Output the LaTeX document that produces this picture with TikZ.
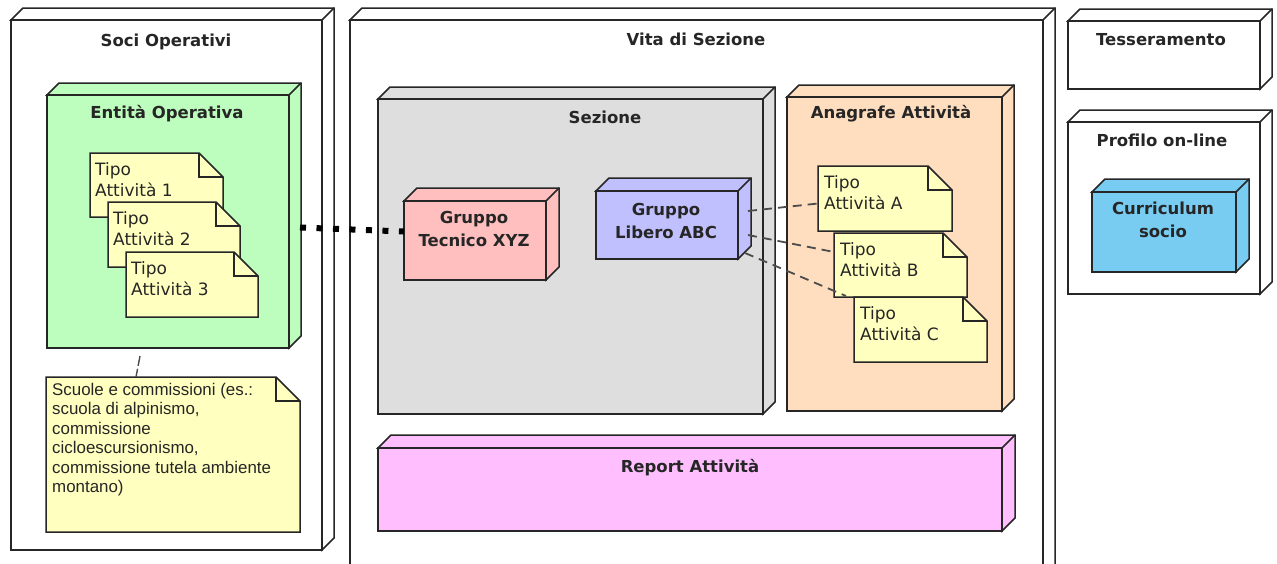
\documentclass[tikz,border=0pt]{standalone}
\usepackage{fontspec}
\setmainfont{DejaVu Sans}
\newfontfamily\memofont{Liberation Sans}

\definecolor{noteyellow}{HTML}{FFFFBF}
\definecolor{opgreen}{HTML}{BDFDBD}
\definecolor{sezgray}{HTML}{DEDEDE}
\definecolor{anapeach}{HTML}{FFDDBF}
\definecolor{tecpink}{HTML}{FFBFBF}
\definecolor{liblilac}{HTML}{C0C0FF}
\definecolor{repmagenta}{HTML}{FFBFFF}
\definecolor{curblue}{HTML}{78CCF2}
\definecolor{ink}{HTML}{262626}

\tikzset{
  edge/.style={draw=ink, line width=1.5pt, line join=miter},
  front/.style={edge, inner sep=0pt, outer sep=0pt, anchor=north west},
  title/.style={font=\bfseries\fontsize{16.5}{23}\selectfont, text=ink, inner sep=0pt, align=center},
  memotext/.style={font=\fontsize{17}{21}\selectfont, text=ink, inner sep=0pt, align=left, anchor=north west},
  bigdots/.style={draw=black, line width=6pt, dash pattern=on 6pt off 10.5pt},
  link/.style={draw=black!70, line width=1.8pt, dash pattern=on 9pt off 6pt},
  thinlink/.style={draw=black!70, line width=1.4pt, dash pattern=on 10pt off 3pt},
}

% UML node drawn as a box: name, x1, y1, x2, y2 (front face), depth, fill
\newcommand\umlcube[7]{%
  \draw[edge, fill=#7] (#2,#3) -- ++(#6,-#6) -- (#4+#6,#3-#6) -- (#4+#6,#5-#6)
        -- (#4,#5) -- (#4,#3) -- cycle;
  \draw[edge] (#4,#3) -- ++(#6,-#6);
  \node[front, fill=#7, minimum width=#4pt-#2pt, minimum height=#5pt-#3pt] (#1) at (#2,#3) {};
}

% UML note with a folded corner: name, x1, y1, x2, y2
\newcommand\umlnote[5]{%
  \node[inner sep=0pt, outer sep=0pt, anchor=north west,
        minimum width=#4pt-#2pt, minimum height=#5pt-#3pt] (#1) at (#2,#3) {};
  \draw[edge, fill=noteyellow] (#1.north west) -- ([xshift=-24pt]#1.north east)
        -- ([yshift=-24pt]#1.north east) -- (#1.south east) -- (#1.south west) -- cycle;
  \draw[edge] ([xshift=-24pt]#1.north east) |- ([yshift=-24pt]#1.north east);
}

\begin{document}
\begin{tikzpicture}[x=1pt,y=-1pt]
\clip (0,0) rectangle (1277,563);
\fill[white] (0,0) rectangle (1277,563);

% outer containers
\umlcube{soci}{11}{20}{322}{550}{12}{white}
\node[title, anchor=base] (socit) at (166,46) {Soci Operativi};

\umlcube{vita}{350}{20}{1043}{600}{12}{white}
\node[title, anchor=base] (vitat) at (696,45) {Vita di Sezione};

\umlcube{tess}{1068}{21}{1260}{89}{12}{white}
\node[title, anchor=base] (tesst) at (1161,45) {Tesseramento};

\umlcube{prof}{1068}{122}{1260}{294}{12}{white}
\node[title, anchor=base] (proft) at (1162,146) {Profilo on-line};

\umlcube{curr}{1092}{192}{1236}{272}{13}{curblue}
\node[title] (currt) at (1163,220) {Curriculum\\socio};

% Soci Operativi content
\umlcube{entita}{47}{95}{289}{348}{12}{opgreen}
\node[title, anchor=base] (entitat) at (167,118) {Entità Operativa};

\umlnote{tipo1}{90}{153}{223}{217}
\node[memotext] (tipo1t) at (95,162) {Tipo\\Attività 1};
\umlnote{tipo2}{108}{202}{240}{267}
\node[memotext] (tipo2t) at (113,211) {Tipo\\Attività 2};
\umlnote{tipo3}{126}{252}{258}{317}
\node[memotext] (tipo3t) at (131,261) {Tipo\\Attività 3};

\umlnote{scuole}{46}{377}{300}{532}
\node[memotext, font=\memofont\fontsize{16.9}{19.5}\selectfont] (scuolet) at (52,383)
  {Scuole e commissioni (es.:\\scuola di alpinismo,\\commissione\\cicloescursionismo,\\commissione tutela ambiente\\montano)};

% Vita di Sezione content
\umlcube{sezione}{378}{99}{763}{414}{12}{sezgray}
\node[title, anchor=base] (sezionet) at (605,123) {Sezione};

\umlcube{anagrafe}{787}{97}{1002}{411}{12}{anapeach}
\node[title, anchor=base] (anagrafet) at (891,118) {Anagrafe Attività};

\umlcube{tecnico}{404}{201}{546}{280}{13}{tecpink}
\node[title] (tecnicot) at (474,229) {Gruppo\\Tecnico XYZ};

\umlcube{libero}{596}{191}{738}{259}{13}{liblilac}
\node[title] (liberot) at (666,221) {Gruppo\\Libero ABC};

\umlnote{tipoA}{818}{166}{952}{231}
\node[memotext] (tipoAt) at (824,175) {Tipo\\Attività A};
\umlnote{tipoB}{834}{233}{967}{297}
\node[memotext] (tipoBt) at (840,242) {Tipo\\Attività B};
\umlnote{tipoC}{854}{297}{987}{362}
\node[memotext] (tipoCt) at (860,306) {Tipo\\Attività C};

\umlcube{report}{378}{448}{1002}{531}{13}{repmagenta}
\node[title, anchor=base] (reportt) at (690,472) {Report Attività};

% connectors
\draw[bigdots] ([shift={(11,6)}]entita.east) -- ([shift={(0,-9)}]tecnico.west);

\draw[link] ([shift={(10,-14)}]libero.east) -- ([shift={(0,5)}]tipoA.west);
\draw[link] ([shift={(10,10)}]libero.east) -- ([shift={(0,-13)}]tipoB.west);
\draw[link] ([shift={(7,28)}]libero.east) -- ([shift={(-8,-1)}]tipoC.north west);

\draw[thinlink] ([shift={(-28,8)}]entita.south) -- ([shift={(-37,0)}]scuole.north);
\end{tikzpicture}
\end{document}
